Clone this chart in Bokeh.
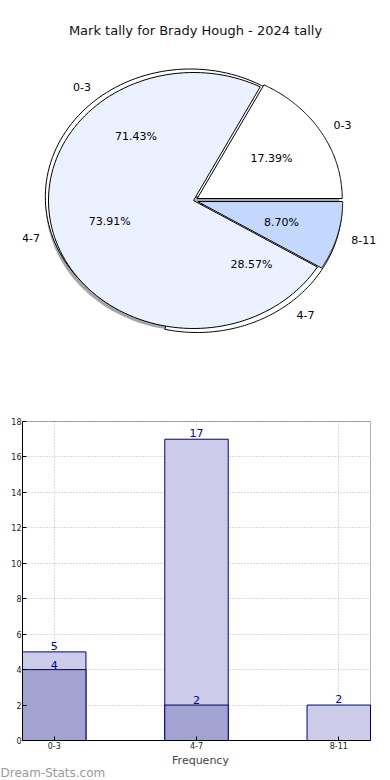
import numpy as np
from bokeh.plotting import figure
from bokeh.models import Range1d, FixedTicker, Title, BoxAnnotation
from bokeh.embed import file_html
from bokeh.resources import INLINE
from bokeh.core.properties import value

# ---------------- data ----------------
title_text = "Mark tally for Brady Hough - 2024 tally"

front_labels = ["0-3", "4-7", "8-11"]
front_values = [4, 17, 2]
front_colors = ["#ffffff", "#ebf1fe", "#c4d8fe"]
front_explode = [0.03, 0.0, 0.03]

back_labels = ["0-3", "4-7"]
back_values = [5, 2]
back_colors = ["#ffffff", "#ffffff"]
back_explode = [0.035, 0.04]

bar_categories = ["0-3", "4-7", "8-11"]
bar_light = [5, 17, 2]
bar_dark = [4, 2, 0]
y_ticks = [0, 2, 4, 6, 8, 10, 12, 14, 16, 18]
watermark = "Dream-Stats.com"

FONT = value("DejaVu Sans")


def make_wedges(values, explode):
    total = float(sum(values))
    res = []
    t1 = 0.0
    for v, e in zip(values, explode):
        t2 = t1 + 360.0 * v / total
        tm = np.radians((t1 + t2) / 2.0)
        cx, cy = e * np.cos(tm), e * np.sin(tm)
        th = np.radians(np.linspace(t1, t2, 120))
        xs = [cx] + list(cx + np.cos(th)) + [cx]
        ys = [cy] + list(cy + np.sin(th)) + [cy]
        res.append(dict(xs=xs, ys=ys, tm=tm, cx=cx, cy=cy, pct=100.0 * v / total))
        t1 = t2
    return res


front = make_wedges(front_values, front_explode)
back = make_wedges(back_values, back_explode)

# ---------------- one figure holding both charts ----------------
W, H = 380, 780
BL, BR, BB = 22, 2, 40           # borders (px)
FW, FH = W - BL - BR, H - BB     # frame size
BAR_TOP_PX = 421                 # page y of value 18
BAR_RIGHT_PX = 370               # page x of right edge of bar area
bw = 0.446
ymax_bar = 18.0
n = len(bar_categories)
bar_left, bar_right = -bw / 2, n - 1 + bw / 2
unit_x = (BAR_RIGHT_PX - BL) / (bar_right - bar_left)
sy = (FH - BAR_TOP_PX) / ymax_bar
xstart = bar_left
xend = xstart + FW / unit_x

p = figure(width=W, height=H, x_range=Range1d(xstart, xend), y_range=Range1d(0, FH / sy),
           output_backend="svg", toolbar_location=None,
           min_border_left=BL, min_border_right=BR, min_border_top=0, min_border_bottom=BB)
p.outline_line_color = None
p.background_fill_color = "white"

# pie ranges (pie unit circle -> ellipse)
CXP, CYP, RXP, RYP = 193.0, 200.0, 145.0, 128.0
p.extra_x_ranges = {"pie": Range1d((BL - CXP) / RXP, (BL + FW - CXP) / RXP)}
p.extra_y_ranges = {"pie": Range1d((CYP - FH) / RYP, CYP / RYP)}
PK = dict(x_range_name="pie", y_range_name="pie")

# shadow of the front pie
p.patches(xs=[[x - 0.02 for x in w["xs"]] for w in front],
          ys=[[y - 0.02 for y in w["ys"]] for w in front],
          fill_color="#4d4d4d", fill_alpha=0.5, line_color=None, **PK)
# back pie
p.patches(xs=[w["xs"] for w in back], ys=[w["ys"] for w in back],
          fill_color=back_colors, line_color="black", line_width=1, **PK)
# front pie
p.patches(xs=[w["xs"] for w in front], ys=[w["ys"] for w in front],
          fill_color=front_colors, line_color="black", line_width=1, **PK)

lx_l, ly_l, lt_l, lx_r, ly_r, lt_r = [], [], [], [], [], []
px, py, pt = [], [], []
for ws, labs in ((back, back_labels), (front, front_labels)):
    for w, lab in zip(ws, labs):
        xt = w["cx"] + 1.1 * np.cos(w["tm"])
        yt = w["cy"] + 1.1 * np.sin(w["tm"])
        if xt > 0:
            lx_l.append(xt); ly_l.append(yt); lt_l.append(lab)
        else:
            lx_r.append(xt); ly_r.append(yt); lt_r.append(lab)
        px.append(w["cx"] + 0.6 * np.cos(w["tm"]))
        py.append(w["cy"] + 0.6 * np.sin(w["tm"]))
        pt.append("%.2f%%" % w["pct"])

p.text(x=lx_l, y=ly_l, text=lt_l, text_align="left", text_baseline="middle",
       text_font=FONT, text_font_size="11px", text_color="black", **PK)
p.text(x=lx_r, y=ly_r, text=lt_r, text_align="right", text_baseline="middle",
       text_font=FONT, text_font_size="11px", text_color="black", **PK)
p.text(x=px, y=py, text=pt, text_align="center", text_baseline="middle",
       text_font=FONT, text_font_size="11px", text_color="black", **PK)
p.text(x=[(195 - CXP) / RXP], y=[(CYP - 30) / RYP], text=[title_text],
       text_align="center", text_baseline="middle",
       text_font=FONT, text_font_size="13px", text_color="#111111", **PK)

# ---------------- bar chart ----------------
xpos = list(range(n))

p.xaxis.ticker = FixedTicker(ticks=xpos)
p.xaxis.major_label_overrides = {i: c for i, c in zip(xpos, bar_categories)}
p.yaxis.ticker = FixedTicker(ticks=y_ticks)
p.xaxis.bounds = (bar_left, bar_right)
p.yaxis.bounds = (0, ymax_bar)
for ax in (p.xaxis[0], p.yaxis[0]):
    ax.major_tick_in = 4
    ax.major_tick_out = 0
    ax.minor_tick_line_color = None
    ax.major_label_text_font = "DejaVu Sans"
    ax.major_label_text_font_size = "8px"
    ax.major_label_text_color = "#222222"
    ax.major_label_standoff = 1
    ax.axis_line_color = "black"
p.xaxis.axis_label = "Frequency"
p.xaxis.axis_label_text_font = "DejaVu Sans"
p.xaxis.axis_label_text_font_size = "11px"
p.xaxis.axis_label_text_font_style = "normal"
p.xaxis.axis_label_standoff = 2

p.xgrid.cross_bounds = (0, ymax_bar)
p.ygrid.cross_bounds = (bar_left, bar_right)
p.grid.grid_line_color = "#b8b8b8"
p.grid.grid_line_dash = "1 2"
p.grid.grid_line_width = 1

p.vbar(x=xpos, top=bar_light, width=bw, fill_color="#ccccea",
       line_color="#000080", line_width=1)
p.vbar(x=xpos, top=bar_dark, width=bw, fill_color="#a3a3d1",
       line_color="#000080", line_width=1)

p.text(x=xpos, y=bar_light, text=[str(v) for v in bar_light],
       text_align="center", text_baseline="bottom", y_offset=-2,
       text_font=FONT, text_font_size="11px", text_color="#000088")
dx = [x for x, v in zip(xpos, bar_dark) if v > 0]
dv = [v for v in bar_dark if v > 0]
p.text(x=dx, y=dv, text=[str(v) for v in dv],
       text_align="center", text_baseline="bottom", y_offset=-1,
       text_font=FONT, text_font_size="11px", text_color="#000088")

p.add_layout(BoxAnnotation(left=bar_left, right=bar_right, bottom=0, top=ymax_bar,
                           fill_color=None, line_color="black", line_width=1))

wm = Title(text=watermark, align="left", offset=-BL, standoff=-11,
           text_font="DejaVu Sans", text_font_size="12px",
           text_font_style="normal", text_color="#9a9a9a")
p.add_layout(wm, "below")

open("out.html", "w").write(file_html(p, INLINE))
